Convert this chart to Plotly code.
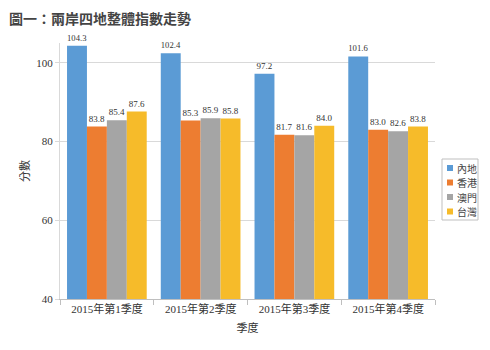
import plotly.graph_objects as go

categories = ["2015年第1季度", "2015年第2季度", "2015年第3季度", "2015年第4季度"]
series_names = ["內地", "香港", "澳門", "台灣"]
mainland = [104.3, 102.4, 97.2, 101.6]
hongkong = [83.8, 85.3, 81.7, 83.0]
macau = [85.4, 85.9, 81.6, 82.6]
taiwan = [87.6, 85.8, 84.0, 83.8]
colors = ["#5B9BD5", "#ED7D31", "#A5A5A5", "#F6BB2A"]
y_ticks = [40, 60, 80, 100]

serif = "Liberation Serif, Times New Roman, Noto Sans CJK TC, serif"
sans = "Noto Sans CJK TC, sans-serif"

L, R, T, B, W, H = 60, 55, 43, 51, 490, 350
PW, PH = W - L - R, H - T - B

def px(x):
    return (x - L) / PW

def py(y):
    return (H - B - y) / PH

fig = go.Figure()
for name, vals, c in zip(series_names, [mainland, hongkong, macau, taiwan], colors):
    fig.add_trace(go.Bar(
        x=categories, y=vals, name=name,
        marker=dict(color=c, line=dict(width=0)),
        text=[f"{v:.1f}" for v in vals], textposition="outside",
        textfont=dict(family=serif, size=9, color="#333333"),
        cliponaxis=False,
    ))

annotations = [dict(text="<b>圖一：兩岸四地整體指數走勢</b>", x=px(7), y=py(18),
                    xref="paper", yref="paper", showarrow=False,
                    xanchor="left", yanchor="middle",
                    font=dict(family=sans, size=14, color="#444444"))]
shapes = []
# custom compact legend
leg_x0, leg_x1, leg_y0, step = 442, 478, 159, 14.5
for i, (name, c) in enumerate(zip(series_names, colors)):
    yy = leg_y0 + 9 + i * step
    shapes.append(dict(type="rect", xref="paper", yref="paper",
                       x0=px(leg_x0 + 5), x1=px(leg_x0 + 11), y0=py(yy - 3), y1=py(yy + 3),
                       line=dict(width=0), fillcolor=c))
    annotations.append(dict(text=name, x=px(leg_x0 + 13), y=py(yy), xref="paper", yref="paper",
                            showarrow=False, xanchor="left", yanchor="middle",
                            font=dict(family=sans, size=10, color="#444444")))
shapes.append(dict(type="rect", xref="paper", yref="paper",
                   x0=px(leg_x0), x1=px(leg_x1), y0=py(leg_y0), y1=py(leg_y0 + 4 * step + 3),
                   line=dict(color="#BFBFBF", width=1), fillcolor="rgba(0,0,0,0)"))

fig.update_layout(
    width=W, height=H,
    margin=dict(l=L, r=R, t=T, b=B, autoexpand=False),
    paper_bgcolor="white", plot_bgcolor="white",
    barmode="group", bargap=0.15, bargroupgap=0,
    showlegend=False,
    annotations=annotations, shapes=shapes,
)

fig.update_xaxes(
    showline=True, linecolor="#BFBFBF", linewidth=1,
    ticks="outside", tickson="boundaries", ticklen=5, tickcolor="#BFBFBF",
    tickfont=dict(family=serif, size=11, color="#333333"),
    title=dict(text="季度", font=dict(family=serif, size=11, color="#333333"), standoff=10),
)
fig.update_yaxes(
    range=[40, 105], tickvals=y_ticks,
    showgrid=True, gridcolor="#D9D9D9", gridwidth=1,
    showline=True, linecolor="#D9D9D9", linewidth=1,
    ticks="outside", ticklen=4, tickcolor="#D9D9D9",
    tickfont=dict(family=serif, size=11, color="#333333"),
    title=dict(text="分數", font=dict(family=serif, size=11, color="#333333"), standoff=4),
    zeroline=False,
)

fig.write_html("out.html")
